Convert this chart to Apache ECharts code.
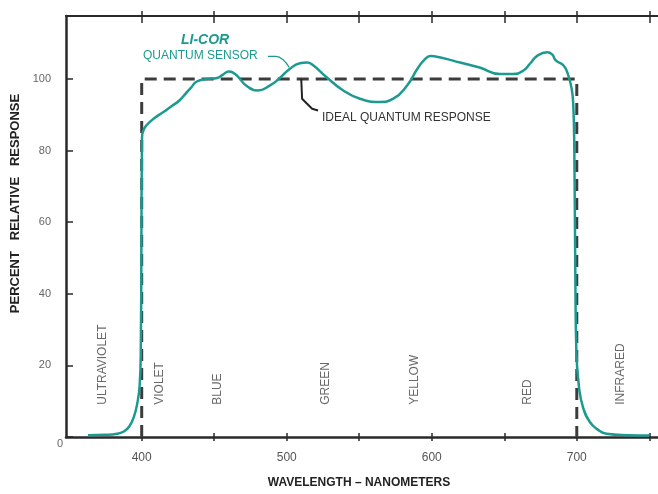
<!DOCTYPE html>
<html>
<head>
<meta charset="utf-8">
<script src="https://cdn.jsdelivr.net/npm/echarts@6/dist/echarts.min.js"></script>
<style>
html,body{margin:0;padding:0;background:#fff;}
#chart{width:658px;height:494px;}
</style>
</head>
<body>
<div id="chart"></div>
<script>
// ---- data ----
const wavelength = [363, 375, 383, 388, 391.5, 394.5, 397, 398.6, 399.4, 399.8, 400.2, 401.5, 407, 415, 421, 426, 430, 434, 438, 445, 452, 456, 460, 463, 466.5, 472, 480, 488.5, 495, 502, 509, 514, 518, 527.5, 539, 550.5, 564, 573.5, 583, 590, 595, 599, 606, 619.5, 633, 647, 656, 663, 668, 672.5, 679.5, 683, 685.5, 691, 694, 696.5, 697.6, 698.3, 699, 699.7, 701.5, 704.5, 709, 714, 720.5, 735, 750];
const response   = [0.5, 0.6, 0.9, 1.6, 3.0, 5.5, 9.5, 14.5, 25, 55, 83.5, 86, 88.5, 90.8, 92.5, 94.0, 95.8, 97.6, 99.3, 100.0, 100.3, 101.2, 102.1, 101.8, 100.6, 98.2, 96.8, 98.2, 100.2, 102.8, 104.4, 104.6, 103.9, 100.5, 96.8, 94.5, 93.6, 94.5, 98.2, 102.8, 105.4, 106.4, 106.0, 104.6, 103.2, 101.4, 101.4, 102.3, 104.4, 106.4, 107.5, 106.9, 105.2, 103.7, 101.2, 97.2, 92.6, 80, 45, 24, 14, 8, 4.2, 2.2, 0.9, 0.5, 0.4];
const idealX = [400, 400, 700, 700];
const idealY = [0, 100, 100, 0];
const sensorLeaderX = [487, 492.5, 497.5, 501.8];
const sensorLeaderY = [106.3, 106.3, 105.4, 103.2];
const idealLeaderX = [510, 510.6, 517.5, 521.6];
const idealLeaderY = [100, 94.5, 91.7, 91.2];
const regionNames = ['ULTRAVIOLET', 'VIOLET', 'BLUE', 'GREEN', 'YELLOW', 'RED', 'INFRARED'];
const regionCenters = [373, 412.5, 452.5, 527, 588, 666, 730];
const xTicks = [400, 450, 500, 550, 600, 650, 700, 750];
const xTickLabels = [400, 500, 600, 700];
const yTicks = [0, 20, 40, 60, 80, 100];
const yTickLabels = [20, 40, 60, 80, 100];
const yOriginLabel = [0];

// ---- styles ----
const TEAL = '#1d9a90';
const AXIS = '#2a2a2a';
const DASH = '#3c3c3c';
const FONT = 'Liberation Sans, Arial, sans-serif';
const regionLabelBase = 9.0;

const zip = (a, b) => a.map((v, i) => [v, b[i]]);

const chart = echarts.init(document.getElementById('chart'));
const xBase = { type: 'value', min: 347.8, max: 756, splitLine: { show: false } };
const yBase = { type: 'value', min: 0, max: 117.6, splitLine: { show: false } };

chart.setOption({
  animation: false,
  grid: { left: 66, top: 16, right: 0, bottom: 51.3, containLabel: false },
  xAxis: [
    Object.assign({}, xBase, {
      position: 'bottom',
      name: 'WAVELENGTH \u2013 NANOMETERS', nameLocation: 'middle', nameGap: 40,
      nameTextStyle: { fontFamily: FONT, fontWeight: 'bold', fontSize: 12, color: '#222', padding: [0, 6, 0, 0] },
      axisLine: { show: true, onZero: false, lineStyle: { color: AXIS, width: 2.5 } },
      axisTick: { show: true, inside: true, length: 4, customValues: xTicks, lineStyle: { color: AXIS, width: 1.5 } },
      axisLabel: { show: true, margin: 15, customValues: xTickLabels, fontFamily: FONT, fontSize: 12, color: '#555' }
    }),
    Object.assign({}, xBase, {
      position: 'bottom',
      axisLine: { show: false, onZero: false },
      axisTick: { show: true, inside: false, length: 4, customValues: xTicks, lineStyle: { color: AXIS, width: 1.5 } },
      axisLabel: { show: false }
    }),
    Object.assign({}, xBase, {
      position: 'top',
      axisLine: { show: true, onZero: false, lineStyle: { color: AXIS, width: 2 } },
      axisTick: { show: true, inside: true, length: 7, customValues: xTicks, lineStyle: { color: AXIS, width: 1.5 } },
      axisLabel: { show: false }
    }),
    Object.assign({}, xBase, {
      position: 'top',
      axisLine: { show: false, onZero: false },
      axisTick: { show: true, inside: false, length: 5, customValues: xTicks, lineStyle: { color: AXIS, width: 1.5 } },
      axisLabel: { show: false }
    })
  ],
  yAxis: [
    Object.assign({}, yBase, {
      position: 'left',
      name: 'PERCENT   RELATIVE   RESPONSE', nameLocation: 'middle', nameGap: 42, nameRotate: 90,
      nameTextStyle: { fontFamily: FONT, fontWeight: 'bold', fontSize: 13, color: '#222', padding: [0, 0, 0, 46] },
      axisLine: { show: true, onZero: false, lineStyle: { color: AXIS, width: 2.5 } },
      axisTick: { show: true, inside: true, length: 7, customValues: yTicks, lineStyle: { color: AXIS, width: 1.5 } },
      axisLabel: { show: true, margin: 15, customValues: yTickLabels, fontFamily: FONT, fontSize: 11, color: '#666' }
    }),
    Object.assign({}, yBase, {
      position: 'left',
      axisLine: { show: false, onZero: false },
      axisTick: { show: false },
      axisLabel: { show: true, margin: 3, customValues: yOriginLabel, fontFamily: FONT, fontSize: 11, color: '#666',
        formatter: v => '{z|' + v + '}', rich: { z: { padding: [14, 0, 0, 0], fontFamily: FONT, fontSize: 11, color: '#666' } } }
    })
  ],
  series: [
    {
      name: 'Ideal quantum response', type: 'line', data: zip(idealX, idealY),
      showSymbol: false, symbol: 'none', silent: true,
      lineStyle: { color: DASH, width: 3, type: [12, 7] }, z: 2
    },
    {
      name: 'LI-COR quantum sensor', type: 'line', data: zip(wavelength, response),
      showSymbol: false, symbol: 'none', smooth: 0.5,
      lineStyle: { color: TEAL, width: 2.5 }, z: 3
    },
    {
      type: 'line', data: zip(sensorLeaderX, sensorLeaderY), showSymbol: false, symbol: 'none', smooth: 0.4,
      lineStyle: { color: TEAL, width: 1.2 }, z: 3
    },
    {
      type: 'line', data: zip(idealLeaderX, idealLeaderY), showSymbol: false, symbol: 'none',
      lineStyle: { color: '#222', width: 2 }, z: 3
    },
    {
      type: 'scatter', symbolSize: 0, silent: true,
      data: regionNames.map((n, i) => ({ name: n, value: [regionCenters[i], regionLabelBase] })),
      label: { show: true, position: 'inside', rotate: 90, align: 'left', verticalAlign: 'middle',
        formatter: p => p.name, fontFamily: FONT, fontSize: 12, color: '#444' }
    }
  ],
  graphic: [
    { type: 'text', left: 181, top: 33, style: { text: 'LI-COR', font: 'italic bold 14px ' + FONT, fill: TEAL } },
    { type: 'text', left: 143, top: 50, style: { text: 'QUANTUM SENSOR', font: '12px ' + FONT, fill: TEAL } },
    { type: 'text', left: 322, top: 112, style: { text: 'IDEAL QUANTUM RESPONSE', font: '12px ' + FONT, fill: '#333' } }
  ]
});
</script>
</body>
</html>
